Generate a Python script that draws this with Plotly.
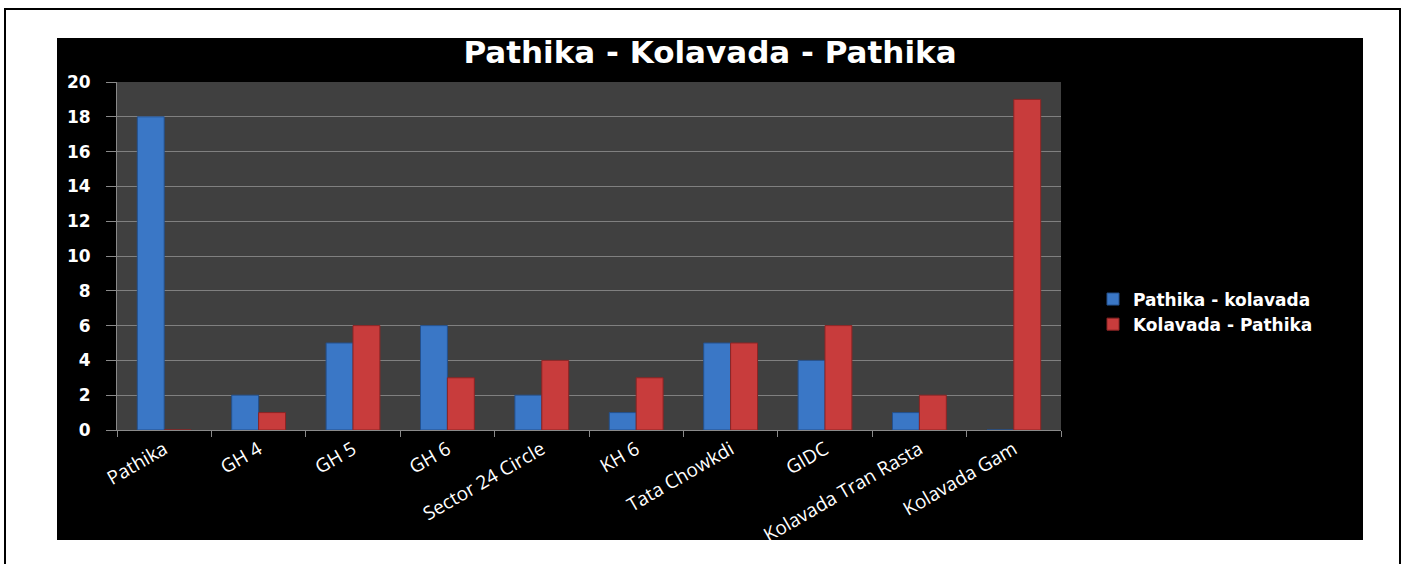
import plotly.graph_objects as go

# Stops along the route
stops = ["Pathika", "GH 4", "GH 5", "GH 6", "Sector 24 Circle", "KH 6",
         "Tata Chowkdi", "GIDC", "Kolavada Tran Rasta", "Kolavada Gam"]

# Values per direction
pathika_kolavada = [18, 2, 5, 6, 2, 1, 5, 4, 1, 0]
kolavada_pathika = [0, 1, 6, 3, 4, 3, 5, 6, 2, 19]

W, H = 1406, 564
L, R, T, B = 117, 1061, 82, 430   # plot area in pixels


def px_x(p):
    return (p - L) / (R - L)


def px_y(p):
    return (B - p) / (B - T)


fig = go.Figure()
fig.add_trace(go.Bar(
    x=stops, y=pathika_kolavada, name="Pathika - kolavada",
    marker=dict(color="#3A77C6", line=dict(color="#24508C", width=1)),
))
fig.add_trace(go.Bar(
    x=stops, y=kolavada_pathika, name="Kolavada - Pathika",
    marker=dict(color="#C83C3C", line=dict(color="#8C2424", width=1)),
))

shapes = [
    # outer page border
    dict(type="rect", xref="paper", yref="paper", layer="below",
         x0=px_x(5), x1=px_x(1400), y0=px_y(590), y1=px_y(9),
         line=dict(color="black", width=2), fillcolor="white"),
    # black chart area
    dict(type="rect", xref="paper", yref="paper", layer="below",
         x0=px_x(57), x1=px_x(1363), y0=px_y(540), y1=px_y(38),
         line=dict(width=0), fillcolor="black"),
    # plot area background
    dict(type="rect", xref="paper", yref="paper", layer="below",
         x0=0, x1=1, y0=0, y1=1,
         line=dict(width=0), fillcolor="#404040"),
]

fig.update_layout(
    width=W, height=H,
    margin=dict(l=L, r=W - R, t=T, b=H - B, autoexpand=False),
    paper_bgcolor="white",
    plot_bgcolor="#404040",
    barmode="group",
    bargap=0.43,
    bargroupgap=0,
    shapes=shapes,
    title=dict(
        text="<b>Pathika - Kolavada - Pathika</b>",
        xref="paper", x=px_x(710), xanchor="center",
        yref="container", y=1 - 52 / H, yanchor="middle",
        font=dict(family="DejaVu Sans", size=31, color="white"),
    ),
    legend=dict(
        x=px_x(1093), xanchor="left", y=px_y(312), yanchor="middle",
        bgcolor="rgba(0,0,0,0)",
        font=dict(family="DejaVu Sans", size=17, color="white", weight="bold"),
        itemwidth=30,
    ),
    xaxis=dict(
        tickson="boundaries", ticks="outside", ticklen=6, tickcolor="#8a8a8a",
        showline=True, linecolor="#8a8a8a", linewidth=1, showgrid=False,
        tickangle=-30,
        tickfont=dict(family="Open Sans", size=19, color="white"),
    ),
    yaxis=dict(
        range=[0, 20], dtick=2, ticks="outside", ticklen=10, tickcolor="#8a8a8a",
        showline=True, linecolor="#8a8a8a", linewidth=1,
        showgrid=True, gridcolor="#808080", gridwidth=1, zeroline=False,
        ticklabelstandoff=12,
        tickfont=dict(family="DejaVu Sans", size=17, color="white", weight="bold"),
    ),
    showlegend=True,
)

fig.write_html("out.html", config={"displayModeBar": False},
               post_script="document.body.style.margin='0px';")
